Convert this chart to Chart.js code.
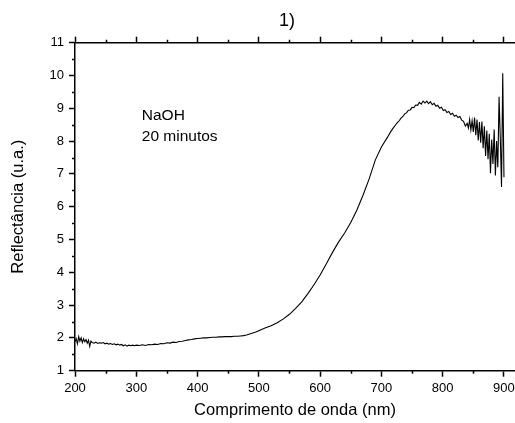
<!DOCTYPE html>
<html>
<head>
<meta charset="utf-8">
<script src="https://cdn.jsdelivr.net/npm/chart.js@4/dist/chart.umd.min.js"></script>
<style>
  html, body { margin: 0; padding: 0; background: #fff; }
  #wrap { width: 515px; height: 423px; }
</style>
</head>
<body>
<div id="wrap"><canvas id="c" width="515" height="423"></canvas></div>
<script>
// Reflectance spectrum, NaOH treatment, 20 minutes
const wavelengthNm = [
  200, 202, 204, 206, 208, 210, 212, 214, 216, 218, 220, 222, 224, 226,
  228, 231, 234, 237, 240, 243, 246, 249, 252, 255, 258, 261, 264,
  267, 270, 273, 276, 279, 282, 285, 288, 291, 294, 297, 300,
  305, 310, 315, 320, 325, 330, 335, 340, 345, 350, 355, 360,
  365, 370, 375, 380, 385, 390, 395, 400, 405, 410, 415, 420,
  425, 430, 435, 440, 445, 450, 455, 460, 465, 470, 475, 480,
  485, 490, 495, 500,
  510, 520, 530, 540, 550, 560, 570, 580, 590, 600, 610,
  620, 630, 640, 650, 660, 670, 680, 690, 700, 710,
  715, 720,
  723, 726, 729, 732, 735, 738, 741, 744, 747, 750,
  753, 756, 759, 762, 765, 768, 771, 774, 777, 780,
  783, 786, 789, 792, 795, 798, 801, 804, 807, 810,
  813, 816, 819, 822, 825, 828, 831, 834, 837, 840,
  842, 844, 846, 848, 850, 852, 854, 856, 858, 860,
  862, 864, 866, 868, 870, 872, 874, 876, 878, 880,
  882, 884, 886, 888, 890, 892, 894, 896, 898, 900
];
const reflectance = [
  1.88, 1.98, 1.82, 2.04, 1.90, 2.00, 1.86, 1.97, 1.88, 1.95, 1.84, 1.93, 1.74, 1.90,
  1.86, 1.84, 1.87, 1.83, 1.85, 1.84, 1.86, 1.82, 1.84, 1.81, 1.83, 1.80, 1.82,
  1.79, 1.81, 1.78, 1.80, 1.76, 1.79, 1.75, 1.78, 1.76, 1.78, 1.76, 1.78,
  1.77, 1.79, 1.77, 1.80, 1.79, 1.81, 1.80, 1.83, 1.82, 1.85, 1.84, 1.87,
  1.86, 1.89, 1.90, 1.92, 1.94, 1.95, 1.97, 1.98, 1.99, 2.00, 2.00, 2.01,
  2.02, 2.02, 2.03, 2.03, 2.04, 2.04, 2.04, 2.05, 2.05, 2.06, 2.07, 2.09,
  2.12, 2.15, 2.18, 2.22,
  2.30, 2.37, 2.46, 2.58, 2.72, 2.90, 3.10, 3.35, 3.62, 3.92, 4.25,
  4.60, 4.92, 5.20, 5.52, 5.90, 6.35, 6.85, 7.42, 7.82, 8.12,
  8.28, 8.42,
  8.49, 8.56, 8.62, 8.70, 8.75, 8.83, 8.86, 8.94, 8.95, 9.03,
  9.02, 9.10, 9.09, 9.18, 9.13, 9.22, 9.16, 9.22, 9.14, 9.20,
  9.11, 9.15, 9.06, 9.09, 9.00, 9.03, 8.93, 8.96, 8.87, 8.90,
  8.81, 8.85, 8.76, 8.79, 8.72, 8.75, 8.64, 8.60, 8.46, 8.54,
  8.40, 8.66, 8.34, 8.62, 8.28, 8.72, 8.18, 8.66, 8.02, 8.58,
  7.95, 8.60, 7.78, 8.45, 7.55, 8.32, 7.45, 8.22, 7.02, 8.05,
  7.30, 8.35, 6.95, 8.00, 7.20, 9.35, 8.10, 6.60, 10.07, 6.90
];
const xTicks = [200, 300, 400, 500, 600, 700, 800, 900];
const yTicks = [1, 2, 3, 4, 5, 6, 7, 8, 9, 10, 11];
const chartTitle = '1)';
const noteLines = ['NaOH', '20 minutos'];

const FAMILY = '"Liberation Sans", Arial, Helvetica, sans-serif';
const INK = '#000';

function useTicks(list) {
  return scale => { scale.ticks = list.map(v => ({ value: v })); };
}

// short minor ticks halfway between the labelled ones, pointing outward
const minorTicks = {
  id: 'minorTicks',
  afterDraw(chart) {
    const { ctx, chartArea: a } = chart;
    const xs = chart.scales.x, ys = chart.scales.y;
    ctx.save();
    ctx.strokeStyle = INK;
    ctx.lineWidth = 1.5;
    ctx.beginPath();
    for (const v of xTicks) {
      const m = v + 50;
      if (m > xs.max) continue;
      const px = Math.round(xs.getPixelForValue(m)) + 0.5;
      ctx.moveTo(px, a.bottom); ctx.lineTo(px, a.bottom + 3);
      ctx.moveTo(px, a.top); ctx.lineTo(px, a.top - 3);
    }
    for (const v of yTicks) {
      const m = v + 0.5;
      if (m > ys.max) continue;
      const py = Math.round(ys.getPixelForValue(m)) + 0.5;
      ctx.moveTo(a.left, py); ctx.lineTo(a.left - 3, py);
    }
    ctx.stroke();
    ctx.restore();
  }
};

// heading above the frame and the sample note inside the plot
const captions = {
  id: 'captions',
  afterDraw(chart) {
    const { ctx } = chart;
    const xs = chart.scales.x, ys = chart.scales.y;
    ctx.save();
    ctx.fillStyle = INK;
    ctx.font = '18px ' + FAMILY;
    ctx.textAlign = 'center';
    ctx.textBaseline = 'middle';
    ctx.fillText(chartTitle, 287, 21);
    ctx.font = '15.5px ' + FAMILY;
    ctx.textAlign = 'left';
    const nx = xs.getPixelForValue(309);
    const ny = ys.getPixelForValue(8.77);
    noteLines.forEach((t, i) => ctx.fillText(t, nx, ny + i * 20.5));
    ctx.restore();
  }
};

const gridOpts = {
  drawOnChartArea: false,
  drawTicks: true,
  tickLength: 6,
  tickColor: INK,
  tickWidth: 1.5
};
const borderOpts = { display: true, color: INK, width: 1.5 };

new Chart(document.getElementById('c'), {
  type: 'line',
  data: {
    datasets: [{
      data: wavelengthNm.map((x, i) => ({ x, y: reflectance[i] })),
      borderColor: INK,
      borderWidth: 1.1,
      pointRadius: 0,
      tension: 0,
      fill: false
    }]
  },
  options: {
    responsive: false,
    animation: false,
    devicePixelRatio: 1,
    layout: { padding: { top: 36.7, right: 0, bottom: 0, left: 0 } },
    plugins: {
      legend: { display: false },
      tooltip: { enabled: false },
      title: { display: false }
    },
    scales: {
      x: {
        type: 'linear',
        position: 'bottom',
        min: 200,
        max: 918,
        afterBuildTicks: useTicks(xTicks),
        afterFit: s => { s.height = 52.3; s.paddingLeft = 0; s.paddingRight = 0; },
        ticks: { font: { family: FAMILY, size: 13 }, color: INK, padding: 4, maxRotation: 0, autoSkip: false },
        grid: gridOpts,
        border: borderOpts,
        title: {
          display: true,
          text: 'Comprimento de onda (nm)',
          font: { family: FAMILY, size: 16.5 },
          color: INK,
          padding: { top: 0, bottom: 3 }
        }
      },
      xTop: {
        type: 'linear',
        position: 'top',
        min: 200,
        max: 918,
        afterBuildTicks: useTicks(xTicks),
        afterFit: s => { s.paddingLeft = 0; s.paddingRight = 0; },
        ticks: { display: false },
        grid: gridOpts,
        border: borderOpts
      },
      y: {
        type: 'linear',
        position: 'left',
        min: 1,
        max: 11,
        afterBuildTicks: useTicks(yTicks),
        afterFit: s => { s.width = 75; s.paddingTop = 0; s.paddingBottom = 0; },
        ticks: { font: { family: FAMILY, size: 13 }, color: INK, padding: 5, autoSkip: false },
        grid: gridOpts,
        border: borderOpts,
        title: {
          display: true,
          text: 'Reflectância (u.a.)',
          font: { family: FAMILY, size: 16.5 },
          color: INK,
          padding: { top: 9, bottom: 0 }
        }
      }
    }
  },
  plugins: [minorTicks, captions]
});
</script>
</body>
</html>
